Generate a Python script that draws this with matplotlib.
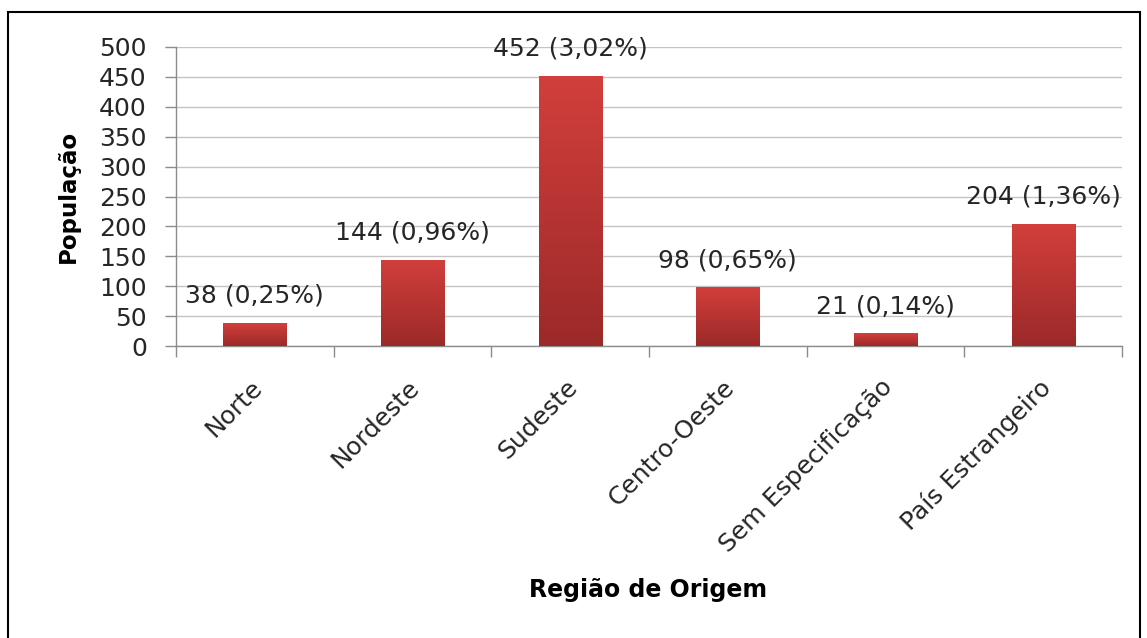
import matplotlib
matplotlib.use("Agg")
import matplotlib.pyplot as plt
import matplotlib.transforms as mtransforms
import numpy as np
from matplotlib.patches import Rectangle
from matplotlib.colors import LinearSegmentedColormap

categories = ["Norte", "Nordeste", "Sudeste", "Centro-Oeste", "Sem Especificação", "País Estrangeiro"]
values = [38, 144, 452, 98, 21, 204]
percent_labels = ["0,25%", "0,96%", "3,02%", "0,65%", "0,14%", "1,36%"]
yticks = [0, 50, 100, 150, 200, 250, 300, 350, 400, 450, 500]

plt.rcParams['font.family'] = ['DejaVu Sans']

W, H = 1147, 638
fig = plt.figure(figsize=(W / 100, H / 100), dpi=100)
ax = fig.add_axes([176 / W, 1 - 346 / H, (1122 - 176) / W, (346 - 47) / H])

x = np.arange(len(categories))
bars = ax.bar(x, values, width=0.4, color="#c0393a", zorder=3)

cmap = LinearSegmentedColormap.from_list("red_grad", ["#9b2a29", "#b73432", "#d23f3c"])
grad = np.linspace(0, 1, 256).reshape(-1, 1)
for b in bars:
    b.set_facecolor("none")
    x0, w, h = b.get_x(), b.get_width(), b.get_height()
    im = ax.imshow(grad, cmap=cmap, aspect="auto", origin="lower",
                   extent=[x0, x0 + w, 0, h], zorder=3)
    im.set_clip_path(b)

ax.set_xlim(-0.5, len(categories) - 0.5)
ax.set_ylim(0, 500)
ax.set_yticks(yticks)
ax.set_yticklabels([str(t) for t in yticks], fontsize=18, color="#262626")
ax.yaxis.grid(True, color="#c4c4c4", linewidth=1.0, zorder=0)
ax.set_axisbelow(True)

ax.set_xticks(x)
ax.set_xticklabels(categories, rotation=45, ha="right", rotation_mode="anchor",
                   fontsize=18, color="#262626")
ax.tick_params(axis="x", which="major", length=0, pad=21)
shift = mtransforms.ScaledTranslation(-5 / 100, 0, fig.dpi_scale_trans)
for lbl in ax.get_xticklabels():
    lbl.set_transform(lbl.get_transform() + shift)
ax.set_xticks(np.arange(-0.5, len(categories), 1.0), minor=True)
ax.tick_params(axis="x", which="minor", length=8, color="#8c8c8c", width=1)
ax.tick_params(axis="y", length=8, color="#8c8c8c", width=1, pad=13)

for s in ["top", "right"]:
    ax.spines[s].set_visible(False)
for s in ["left", "bottom"]:
    ax.spines[s].set_color("#8c8c8c")
    ax.spines[s].set_linewidth(1)

for xi, v, p in zip(x, values, percent_labels):
    ax.annotate(f"{v} ({p})", (xi, v), xytext=(0, 11), textcoords="offset points",
                ha="center", va="bottom", fontsize=18, color="#262626", zorder=4)

fig.text(68 / W, 1 - 196 / H, "População", fontsize=16.5, fontweight="bold",
         rotation=90, ha="center", va="center", color="black")
fig.text(648 / W, 1 - 590 / H, "Região de Origem", fontsize=17, fontweight="bold",
         ha="center", va="center", color="black")

fig.patches.append(Rectangle((8 / W, -0.05), (1140 - 8) / W, (1 - 12 / H) + 0.05,
                             transform=fig.transFigure, fill=False,
                             edgecolor="black", linewidth=1.5))

fig.savefig("out.png", dpi=100)
